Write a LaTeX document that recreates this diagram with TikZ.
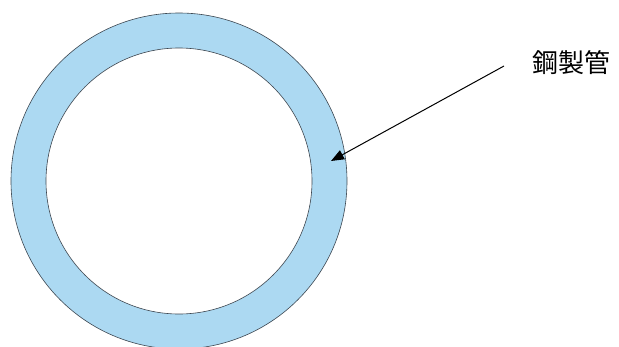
\documentclass[tikz,border=0pt]{standalone}
\usepackage{fontspec}
\newfontfamily\cjk{Noto Sans CJK JP}
\usetikzlibrary{arrows.meta}
\definecolor{pipeblue}{RGB}{172,217,242}
\definecolor{rimgray}{RGB}{60,70,80}
\tikzset{
  ring/.style={circle, draw=rimgray, line width=0.6pt, inner sep=0pt},
  pointer/.style={draw=black, line width=1pt, -{Triangle[length=13pt,width=10pt]}},
  tag/.style={font=\cjk\fontsize{26}{28}\selectfont, anchor=west, inner sep=0pt}
}
\begin{document}
\begin{tikzpicture}[x=1pt,y=-1pt]
\useasboundingbox (0,0) rectangle (619,346);
\clip (0,0) rectangle (619,346);
\node[ring, fill=pipeblue, minimum size=336pt] (outer) at (179,181) {};
\node[ring, fill=white, minimum size=266pt] (inner) at (179,181) {};
\node[tag] (label) at (532,63) {鋼製管};
\coordinate (start) at (504,66);
\coordinate (tip) at (331,161);
\draw[pointer] (start) -- (tip);
\end{tikzpicture}
\end{document}
